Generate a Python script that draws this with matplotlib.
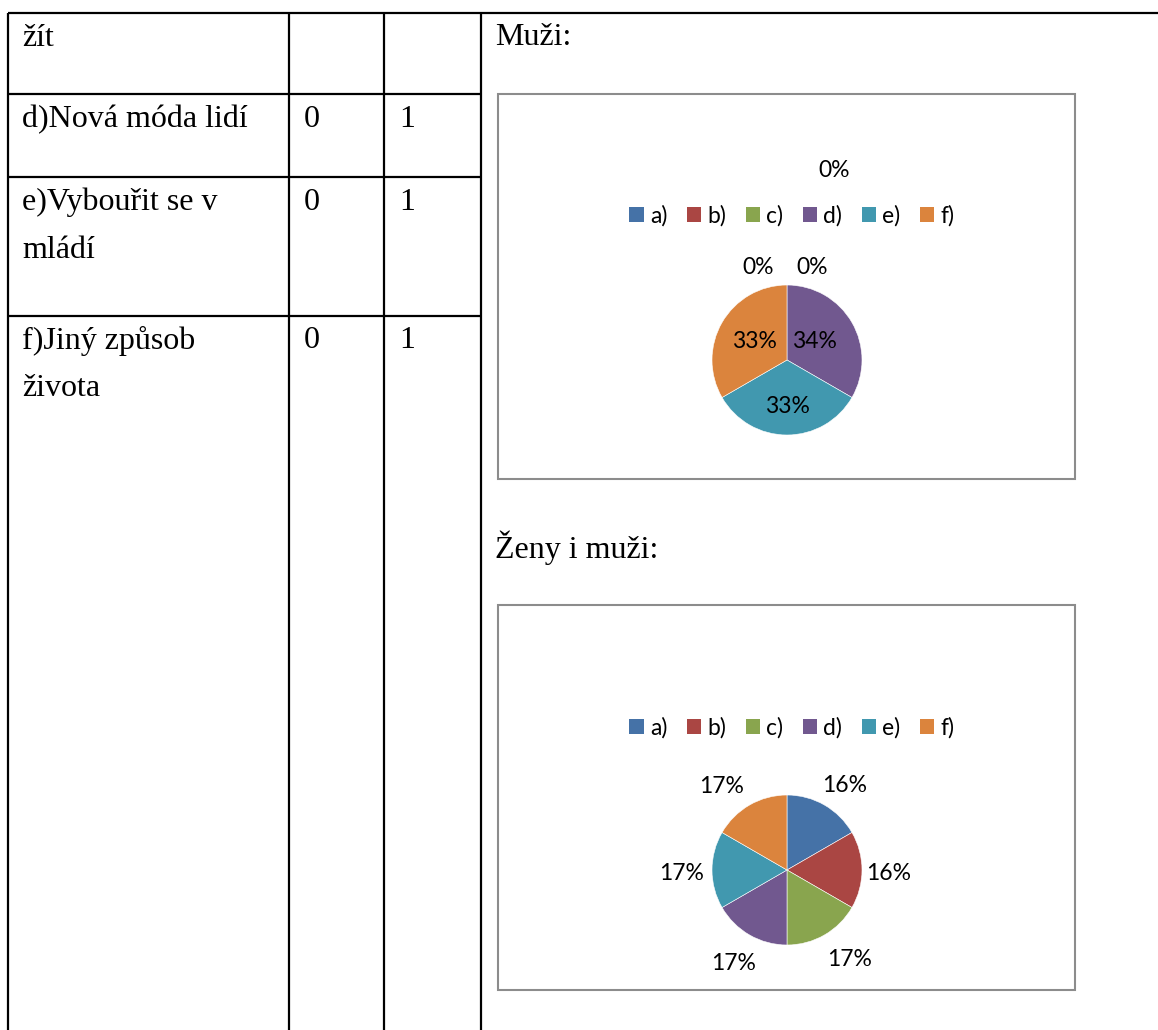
import matplotlib.pyplot as plt
import matplotlib.patches as patches
import numpy as np

# table rows: (label lines, column 1, column 2)
row_labels = [["žít"], ["d)Nová móda lidí"], ["e)Vybouřit se v", "mládí"], ["f)Jiný způsob", "života"]]
col1_values = ["", "0", "0", "0"]
col2_values = ["", "1", "1", "1"]

categories = ["a)", "b)", "c)", "d)", "e)", "f)"]
colors = ["#4572A7", "#AA4643", "#89A54E", "#71588F", "#4198AF", "#DB843D"]

# Muži
men_counts = [0, 0, 0, 1, 1, 1]
men_pct_labels = ["0%", "0%", "0%", "34%", "33%", "33%"]
# Ženy i muži
all_counts = [1, 1, 1, 1, 1, 1]
all_pct_labels = ["16%", "16%", "17%", "17%", "17%", "17%"]

W, H = 1158, 1030
dpi = 100
fig = plt.figure(figsize=(W / dpi, H / dpi), dpi=dpi)

# background axes in pixel coordinates
bg = fig.add_axes([0, 0, 1, 1])
bg.set_xlim(0, W)
bg.set_ylim(H, 0)
bg.axis('off')

serif = "Liberation Serif"
chart_font = "Lato"
tsize = 23
csize = 16.5

# table grid
lc = "black"
lw = 1.6
bg.plot([7.5, W], [12.5, 12.5], color=lc, lw=lw, solid_capstyle='butt')
for x in [7.5, 289, 384, 481]:
    bg.plot([x, x], [12.5, H], color=lc, lw=lw, solid_capstyle='butt')
for y in [94, 177, 315.5]:
    bg.plot([7.5, 481], [y, y], color=lc, lw=lw, solid_capstyle='butt')

row_tops = [12.5, 94, 177, 315.5]
for top, lines, v1, v2 in zip(row_tops, row_labels, col1_values, col2_values):
    base = top + 33
    for i, line in enumerate(lines):
        bg.text(22, base + i * 48, line, fontsize=tsize, family=serif, va='baseline', ha='left')
    bg.text(304, base, v1, fontsize=tsize, family=serif, va='baseline', ha='left')
    bg.text(399, base, v2, fontsize=tsize, family=serif, va='baseline', ha='left')

bg.text(495, 45, "Muži:", fontsize=tsize, family=serif, va='baseline', ha='left')
bg.text(495, 558, "Ženy i muži:", fontsize=tsize, family=serif, va='baseline', ha='left')

# chart boxes
for top in [94, 605]:
    bg.add_patch(patches.Rectangle((497.5, top), 577.5, 385, fill=False, edgecolor="#8c8c8c", lw=1.5))

R = 75  # pie radius in px


def draw_pie(cx, cy, counts, labels, label_pos, legend_y):
    size = 400
    ax = fig.add_axes([(cx - size / 2) / W, 1 - (cy + size / 2) / H, size / W, size / H])
    lim = size / 2 / R
    vals = np.array(counts, dtype=float)
    shown = vals > 0
    ax.pie(vals[shown], colors=[c for c, s in zip(colors, shown) if s], startangle=90,
           counterclock=False, radius=1, wedgeprops=dict(edgecolor='white', linewidth=0.4))
    ax.set_xlim(-lim, lim)
    ax.set_ylim(-lim, lim)
    ax.set_aspect('equal')
    ax.axis('off')
    for lab, (px, py) in zip(labels, label_pos):
        ax.text(px, py, lab, fontsize=csize, family=chart_font, ha='center', va='center')
    handles = [patches.Patch(facecolor=c, edgecolor='none') for c in colors]
    fig.legend(handles, categories, loc='center', bbox_to_anchor=((cx + 5) / W, 1 - legend_y / H),
               ncol=6, frameon=False, prop=dict(family=chart_font, size=csize),
               handlelength=0.62, handleheight=0.62, handletextpad=0.28, columnspacing=0.85)


# label positions in radius units (Excel best fit placement)
men_label_pos = [(-0.39, 1.23), (0.33, 1.23), (0.63, 2.53), (0.37, 0.25), (0.0, -0.62), (-0.43, 0.25)]
all_label_pos = [(0.77, 1.12), (1.36, -0.04), (0.84, -1.20), (-0.71, -1.24), (-1.41, -0.04), (-0.87, 1.11)]

draw_pie(787, 360, men_counts, men_pct_labels, men_label_pos, 216)
draw_pie(787, 870, all_counts, all_pct_labels, all_label_pos, 728)

fig.savefig("out.png", dpi=dpi)
